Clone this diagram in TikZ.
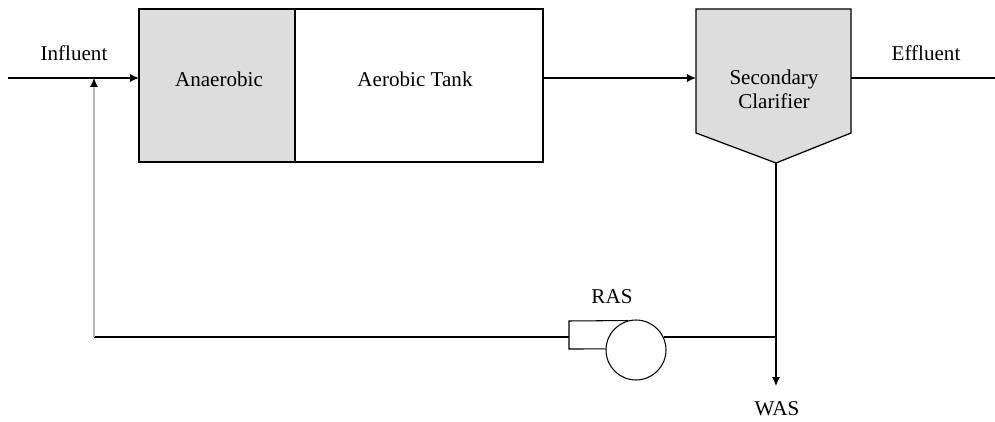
\documentclass[tikz,border=0pt]{standalone}
\usepackage{fontspec}
\setmainfont{Liberation Serif}
\usetikzlibrary{arrows.meta}
\tikzset{
  flow/.style={-{Latex[length=5pt,width=4.5pt]},line width=0.7pt},
  pipe/.style={line width=0.7pt},
  lbl/.style={font=\fontsize{12}{13.5}\selectfont,inner sep=1pt}
}
\begin{document}
\begin{tikzpicture}[x=0.02cm,y=-0.02cm]
\useasboundingbox (0,0) rectangle (995,422);

% tanks
\draw[fill=gray!27,line width=1.1pt] (139,9) rectangle (295,162);
\draw[line width=1.1pt] (295,9) rectangle (543,162);
\node[lbl] (anaer) at (219,79) {Anaerobic};
\node[lbl] (aerob) at (415,79) {Aerobic Tank};

% clarifier
\draw[fill=gray!27,line width=0.7pt] (696,9) -- (851,9) -- (851,133) -- (776,163) -- (696,133) -- cycle;
\node[lbl,align=center] (clar) at (774,89) {Secondary\\Clarifier};
\coordinate (clarin) at (696,78);
\coordinate (clarout) at (851,78);
\coordinate (clarbot) at (776,163);

% pump
\node[circle,draw,line width=0.6pt,minimum size=1.2cm,inner sep=0pt] (pump) at (636,350) {};
\draw[line width=0.6pt] (pump.178) -- (569,349) -- (569,321) -- (pump.105);
\node[lbl] (ras) at (612,297) {RAS};
\coordinate (pumpin) at (569,337);

% flows
\coordinate (start) at (8,78);
\coordinate (mix) at (94,78);
\coordinate (tankin) at (139,78);
\coordinate (tankout) at (543,78);
\coordinate (end) at (995,78);
\coordinate (corner) at (94,337);
\coordinate (split) at (776,337);
\coordinate (was) at (776,386);
\node[lbl] at (74,53) {Influent};
\node[lbl] at (926,53) {Effluent};
\node[lbl] at (777,409) {WAS};

\draw[flow] (start) -- (tankin);
\draw[flow] (tankout) -- (clarin);
\draw[pipe] (clarout) -- (end);
\draw[pipe] (clarbot) -- (split);
\draw[flow] (split) -- (was);
\draw[pipe] (split) -- (pump.25 |- split);
\draw[pipe] (pumpin) -- (corner);
\draw[gray!55,line width=1.7pt] (corner) -- (94,86);
\draw[flow] (94,86) -- (mix);
\end{tikzpicture}
\end{document}
